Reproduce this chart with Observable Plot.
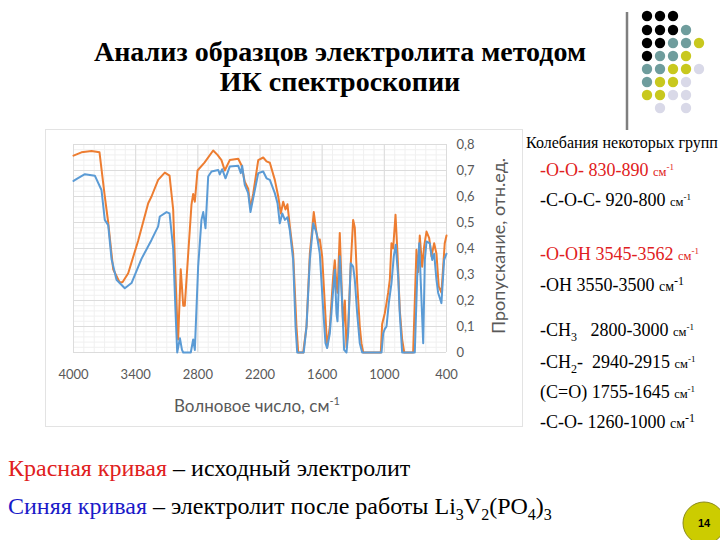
<!DOCTYPE html>
<html>
<head>
<meta charset="utf-8">
<script src="https://cdn.jsdelivr.net/npm/d3@7"></script>
<script src="https://cdn.jsdelivr.net/npm/@observablehq/plot@0.6"></script>
<style>
  html, body { margin:0; padding:0; background:#fff; }
  #page { position:relative; width:720px; height:540px; overflow:hidden; background:#fff; font-family:"Liberation Serif", "Times New Roman", serif; }
  .abs { position:absolute; white-space:nowrap; }
  .title { left:0; width:680px; text-align:center; font-weight:bold; font-size:28px; line-height:30px; color:#000; }
  .grp { font-size:18px; line-height:20px; color:#000; left:540px; }
  .red { color:#e02020; }
  .blue { color:#1a1ac8; }
  .cm { font-size:12.5px; }
  .cm sup { font-size:9px; vertical-align:6px; line-height:0; }
  .cm2 { font-size:14px; }
  .cm2 sup { font-size:12px; vertical-align:6px; line-height:0; }
  sub.s { font-size:12px; vertical-align:-5px; line-height:0; }
  .bottom { left:8px; font-size:24px; line-height:26px; color:#000; }
  .bottom sub { font-size:16px; vertical-align:-6px; line-height:0; }
  #chartFrame { position:absolute; left:45px; top:129px; width:476px; height:296px; border:1px solid #e3e3e3; box-sizing:content-box; }
  #chart { position:absolute; left:0; top:0; }
  .axt { font-family:Lato, "Open Sans", sans-serif; color:#595959; font-size:17px; }
  .axt sup { font-size:11px; vertical-align:7px; line-height:0; }
</style>
</head>
<body>
<div id="page">
  <svg id="deco" class="abs" style="left:0;top:0" width="720" height="540"></svg>
  <div class="abs title" style="top:37px">Анализ образцов электролита методом</div>
  <div class="abs title" style="top:67px">ИК спектроскопии</div>

  <div id="chartFrame"><div id="chart"></div>
    <div class="abs axt" style="left:128px; top:265px;">Волновое число, см<sup>-1</sup></div>
    <div class="abs axt" style="left:452px; top:116px; font-size:18px; transform:translate(-50%,-50%) rotate(-90deg); transform-origin:center;">Пропускание, отн.ед.</div>
  </div>

  <div class="abs" style="left:526px; top:134px; font-size:16px; line-height:18px;">Колебания некоторых групп</div>
  <div class="abs grp red" style="top:160px">-O-O- 830-890 <span class="cm">см<sup>-1</sup></span></div>
  <div class="abs grp" style="top:190px">-C-O-C- 920-800 <span class="cm">см<sup>-1</sup></span></div>
  <div class="abs grp red" style="top:244px">-O-OH 3545-3562 <span class="cm">см<sup>-1</sup></span></div>
  <div class="abs grp" style="top:275px">-OH 3550-3500 <span class="cm2">см<sup>-1</sup></span></div>
  <div class="abs grp" style="top:320px">-CH<sub class="s">3</sub>&nbsp;&nbsp;&nbsp;2800-3000 <span class="cm">см<sup>-1</sup></span></div>
  <div class="abs grp" style="top:352px">-CH<sub class="s">2</sub>-&nbsp;&nbsp;2940-2915 <span class="cm">см<sup>-1</sup></span></div>
  <div class="abs grp" style="top:382px">(C=O) 1755-1645 <span class="cm">см<sup>-1</sup></span></div>
  <div class="abs grp" style="top:412px">-C-O- 1260-1000 <span class="cm2">см<sup>-1</sup></span></div>

  <div class="abs bottom" style="top:455px"><span class="red">Красная кривая</span> – исходный электролит</div>
  <div class="abs bottom" style="top:493px"><span class="blue">Синяя кривая</span> – электролит после работы Li<sub>3</sub>V<sub>2</sub>(PO<sub>4</sub>)<sub>3</sub></div>
</div>
<script>
// ---- data ----
const xTicks = [4000, 3400, 2800, 2200, 1600, 1000, 400];
const yTicks = [0, 0.1, 0.2, 0.3, 0.4, 0.5, 0.6, 0.7, 0.8];

const orangeWn = [4000,3923,3826,3749,3701,3665,3617,3556,3527,3472,3376,3279,3247,3183,3119,3073,3038,3022,2996,2990,2965,2941,2926,2893,2861,2845,2829,2803,2736,2652,2610,2572,2540,2492,2410,2379,2347,2314,2292,2266,2217,2169,2137,2105,2057,2024,1999,1976,1954,1935,1912,1880,1848,1831,1783,1751,1719,1681,1655,1638,1623,1600,1575,1552,1526,1494,1478,1462,1452,1430,1413,1397,1381,1365,1349,1324,1301,1285,1262,1237,1221,1204,1034,1021,996,979,963,947,931,915,892,873,851,828,808,722,690,673,658,635,615,593,567,545,519,497,475,449,417,400];
const orangeT  = [0.757,0.77,0.775,0.77,0.61,0.50,0.32,0.27,0.27,0.305,0.43,0.574,0.60,0.664,0.692,0.68,0.55,0.36,0.09,0.05,0.32,0.18,0.18,0.38,0.57,0.61,0.58,0.70,0.73,0.777,0.76,0.74,0.70,0.74,0.745,0.72,0.657,0.63,0.555,0.61,0.74,0.75,0.735,0.73,0.664,0.60,0.535,0.58,0.55,0.57,0.485,0.38,0.10,0,0,0.10,0.38,0.54,0.46,0.43,0.435,0.37,0.19,0.02,0.10,0.29,0.355,0.26,0.23,0.46,0.26,0.10,0.20,0.02,0.10,0.34,0.51,0.48,0.267,0.10,0.036,0,0,0.11,0.15,0.19,0.23,0.28,0.42,0.40,0.53,0.38,0.164,0.05,0,0,0.395,0.31,0.45,0.33,0.41,0.465,0.44,0.37,0.42,0.38,0.254,0.23,0.42,0.45];

const blueWn = [4000,3960,3890,3794,3730,3698,3665,3633,3585,3505,3440,3344,3247,3183,3167,3102,3073,3038,3016,2999,2973,2953,2941,2868,2845,2829,2797,2765,2748,2726,2700,2668,2603,2588,2565,2533,2492,2410,2385,2372,2347,2314,2292,2266,2217,2169,2137,2105,2057,2031,2009,1985,1960,1935,1912,1880,1857,1841,1778,1751,1719,1686,1655,1623,1590,1568,1552,1526,1494,1478,1462,1452,1430,1407,1388,1365,1349,1324,1301,1285,1262,1237,1214,1027,1011,996,979,957,931,909,890,866,851,828,706,683,663,648,625,609,593,561,538,519,497,481,449,423,400];
const blueT  = [0.66,0.67,0.686,0.68,0.625,0.51,0.49,0.36,0.28,0.247,0.267,0.36,0.433,0.485,0.523,0.54,0.535,0.40,0.165,0,0.055,0.01,0,0,0.05,0.01,0.33,0.51,0.54,0.478,0.677,0.696,0.702,0.685,0.705,0.67,0.715,0.718,0.69,0.718,0.645,0.613,0.54,0.593,0.69,0.696,0.67,0.664,0.613,0.574,0.497,0.535,0.51,0.52,0.47,0.356,0.10,0,0,0.10,0.356,0.497,0.46,0.38,0.164,0.036,0.017,0.074,0.24,0.318,0.15,0.12,0.37,0.19,0.01,0,0.074,0.343,0.33,0.28,0.15,0.036,0,0,0.074,0.09,0.10,0.19,0.267,0.37,0.414,0.29,0.15,0,0,0.29,0.42,0.267,0.036,0.356,0.427,0.42,0.356,0.38,0.28,0.23,0.19,0.356,0.38];

const minorX = d3.range(4000, 399, -100);
const minorY = d3.range(0, 0.801, 0.02);

const orange = orangeWn.map((w, i) => ({wn: w, t: orangeT[i]}));
const blue = blueWn.map((w, i) => ({wn: w, t: blueT[i]}));
const fmtY = d => d === 0 ? "0" : d.toFixed(1).replace(".", ",");

const chart = Plot.plot({
  width: 476, height: 296,
  marginLeft: 27, marginRight: 76, marginTop: 14, marginBottom: 74,
  style: {fontFamily: "Lato, 'Open Sans', sans-serif", fontSize: "13px", color: "#595959", background: "transparent"},
  x: {domain: [4000, 400]},
  y: {domain: [0, 0.8]},
  marks: [
    Plot.ruleX(minorX, {stroke: "#f0f0f0", strokeWidth: 1}),
    Plot.ruleY(minorY, {stroke: "#f0f0f0", strokeWidth: 1}),
    Plot.ruleX(xTicks, {stroke: "#dcdcdc", strokeWidth: 1}),
    Plot.ruleY(yTicks, {stroke: "#dcdcdc", strokeWidth: 1}),
    Plot.axisX({ticks: xTicks, tickSize: 0, tickPadding: 17, tickFormat: d => String(d), label: null, fill: "#595959"}),
    Plot.axisY({anchor: "right", ticks: yTicks, tickSize: 0, tickPadding: 10, tickFormat: fmtY, label: null, fill: "#595959", textAnchor: "start"}),
    Plot.line(orange, {x: "wn", y: "t", stroke: "#ED7D31", strokeWidth: 2}),
    Plot.line(blue, {x: "wn", y: "t", stroke: "#5B9BD5", strokeWidth: 2})
  ]
});
document.getElementById("chart").appendChild(chart);

// ---- decorations ----
const deco = d3.select("#deco");
const dotColors = {k: "#000000", t: "#6f9d9d", y: "#c8c81e", l: "#d9d9e8"};
const dotRows = ["kkk..", "kkkt.", "kktty", "ktty.", "ttyyl", "tyyl.", "yyll.", ".l.l."];
const colX = [647, 660, 673, 686, 699];
const rowY = [16, 30, 43, 56, 69, 82, 95, 108];
deco.append("line").attr("x1", 627).attr("x2", 627).attr("y1", 12).attr("y2", 130).attr("stroke", "#7f7f7f").attr("stroke-width", 2.5);
dotRows.forEach((r, i) => r.split("").forEach((c, j) => {
  if (c !== ".") deco.append("circle").attr("cx", colX[j]).attr("cy", rowY[i]).attr("r", 5.2).attr("fill", dotColors[c]);
}));
deco.append("circle").attr("cx", 704).attr("cy", 523).attr("r", 21).attr("fill", "#cccc00").attr("stroke", "#8a8a1a").attr("stroke-width", 1);
deco.append("text").attr("x", 704).attr("y", 527).attr("text-anchor", "middle").attr("font-family", "Liberation Sans, Arial, sans-serif").attr("font-weight", "bold").attr("font-size", 11).text("14");
</script>
</body>
</html>
